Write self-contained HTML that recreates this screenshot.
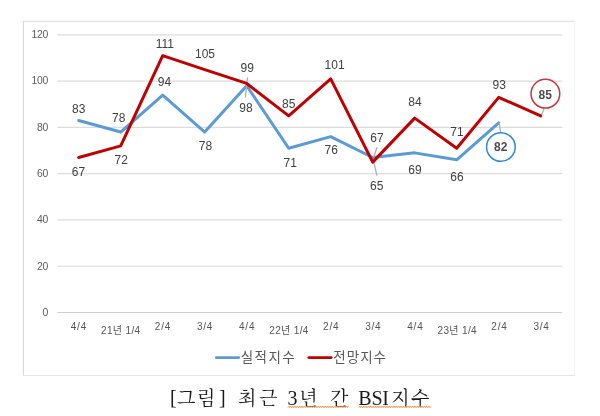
<!DOCTYPE html>
<html lang="ko"><head><meta charset="utf-8"><title>BSI</title>
<style>
html,body{margin:0;padding:0;background:#fff;}
body{width:600px;height:416px;overflow:hidden;position:relative;}
svg{position:absolute;left:0;top:0;display:block;}
.ax text{font-family:"Liberation Sans","Noto Sans CJK KR",sans-serif;font-size:10.4px;fill:#5c5c5c;}
.yl text{text-anchor:end;}
.xl text{text-anchor:middle;font-size:10px;fill:#555;}
.yl text{letter-spacing:-0.3px;}
.dl text{font-family:"Liberation Sans",sans-serif;font-size:12px;fill:#404040;text-anchor:middle;}
.dl.bd text{fill:#4c4c4c;}
.lg text{font-family:"Liberation Sans","Noto Sans CJK KR",sans-serif;font-size:13.5px;fill:#595959;}
.cap{font-family:"Liberation Serif","Noto Serif CJK SC",serif;font-size:19px;fill:#1a1a1a;}
.lat{font-size:20px;}
</style></head><body>
<svg width="600" height="416" viewBox="0 0 600 416">
<g stroke-width="1" fill="none"><line x1="23.4" y1="20.8" x2="23.4" y2="375.9" stroke="#d6d6d6"/><line x1="22.9" y1="21.3" x2="575.2" y2="21.3" stroke="#dedede"/><line x1="22.9" y1="375.5" x2="575.2" y2="375.5" stroke="#e6e6e6" stroke-width="1.2"/><line x1="574.7" y1="21.3" x2="574.7" y2="375.5" stroke="#f6f6f6"/></g>
<g stroke="#dcdcdc" stroke-width="1.2"><line x1="57.5" x2="562.3" y1="266.23" y2="266.23"/><line x1="57.5" x2="562.3" y1="219.95" y2="219.95"/><line x1="57.5" x2="562.3" y1="173.68" y2="173.68"/><line x1="57.5" x2="562.3" y1="127.41" y2="127.41"/><line x1="57.5" x2="562.3" y1="81.13" y2="81.13"/><line x1="57.5" x2="562.3" y1="34.86" y2="34.86"/><line x1="57.5" x2="562.3" y1="312.5" y2="312.5" stroke="#cfcfcf"/></g>
<g class="ax yl"><text x="47.9" y="315.80">0</text><text x="47.9" y="269.53">20</text><text x="47.9" y="223.25">40</text><text x="47.9" y="176.98">60</text><text x="47.9" y="130.71">80</text><text x="47.9" y="84.43">100</text><text x="47.9" y="38.16">120</text></g>
<g class="ax xl"><text x="78.90" y="330.3" letter-spacing="0.8">4/4</text><text x="120.76" y="333.6" letter-spacing="0.35">21년 1/4</text><text x="163.02" y="330.3" letter-spacing="0.8">2/4</text><text x="205.08" y="330.3" letter-spacing="0.8">3/4</text><text x="247.14" y="330.3" letter-spacing="0.8">4/4</text><text x="289.00" y="333.6" letter-spacing="0.35">22년 1/4</text><text x="331.26" y="330.3" letter-spacing="0.8">2/4</text><text x="373.32" y="330.3" letter-spacing="0.8">3/4</text><text x="415.38" y="330.3" letter-spacing="0.8">4/4</text><text x="457.24" y="333.6" letter-spacing="0.35">23년 1/4</text><text x="499.50" y="330.3" letter-spacing="0.8">2/4</text><text x="541.56" y="330.3" letter-spacing="0.8">3/4</text></g>
<polyline points="78.7,120.47 120.7,132.03 162.7,95.02 204.7,132.03 246.7,85.76 288.7,148.23 330.7,136.66 372.7,157.48 414.7,152.86 456.7,159.8 498.7,122.78" fill="none" stroke="#5b9bd5" stroke-width="3" stroke-linejoin="round" stroke-linecap="round"/>
<g stroke="#adb0b2" stroke-width="1.3" fill="none">
<line x1="247.6" y1="77.3" x2="246.7" y2="85"/><line x1="246.6" y1="85" x2="245.4" y2="97.2"/>
<line x1="377" y1="147.3" x2="373.8" y2="157"/><line x1="373.8" y1="162" x2="376.9" y2="175.6"/>
<line x1="499.2" y1="122.8" x2="500.6" y2="132.6"/>
<line x1="544.4" y1="108.3" x2="541.2" y2="115.6"/>
</g>
<polyline points="78.7,157.48 120.7,145.92 162.7,55.68 204.7,69.56 246.7,83.45 288.7,115.84 330.7,78.82 372.7,162.11 414.7,118.15 456.7,148.23 498.7,97.33 540.7,115.84" fill="none" stroke="#c00000" stroke-width="3" stroke-linejoin="round" stroke-linecap="round"/>
<g class="dl"><text x="78.8" y="112.7">83</text><text x="118.8" y="121.9">78</text><text x="164.5" y="85.8">94</text><text x="205.5" y="150">78</text><text x="246" y="111.8">98</text><text x="290.3" y="166.7">71</text><text x="331.3" y="154.3">76</text><text x="377" y="141.9">67</text><text x="415" y="174.3">69</text><text x="457" y="181.2">66</text><text x="78.5" y="175.8">67</text><text x="121.3" y="164.3">72</text><text x="164.9" y="47.6">111</text><text x="205" y="57.5">105</text><text x="247.3" y="71.9">99</text><text x="288.8" y="107.6">85</text><text x="334.6" y="68.9">101</text><text x="376.8" y="190.1">65</text><text x="415" y="105.8">84</text><text x="457" y="136.3">71</text><text x="499.3" y="89.2">93</text></g>
<circle cx="500.9" cy="147" r="14.3" fill="#fff" stroke="#2e8bd8" stroke-width="1.5"/>
<circle cx="545.4" cy="93.7" r="14.35" fill="#fff" stroke="#c8363f" stroke-width="1.5"/>
<g class="dl bd" font-weight="bold"><text x="500.7" y="151.3">82</text><text x="545.3" y="98.8">85</text></g>
<g class="lg">
<line x1="216.2" x2="238.8" y1="357.6" y2="357.6" stroke="#5b9bd5" stroke-width="2.6" stroke-linecap="round"/>
<text x="240.8" y="362.3" letter-spacing="1.4">실적지수</text>
<line x1="308.7" x2="331.3" y1="357.6" y2="357.6" stroke="#c00000" stroke-width="2.6" stroke-linecap="round"/>
<text x="333.3" y="362.3" letter-spacing="1.0">전망지수</text>
</g>
<text class="cap" y="405" x="170 177 197 219 228 238 259 280 287.6 299.3 320 330 350 358.3 371.5 382.3 391.2 411"><tspan class="lat" dy="-0.8">[</tspan><tspan dy="0.8">그림</tspan><tspan class="lat" dy="-0.8">]</tspan><tspan dy="0.8"> 최근 </tspan><tspan class="lat">3</tspan>년 간 <tspan class="lat">BSI</tspan>지수</text>
<g stroke="#ee8a3a" stroke-width="0.8" fill="none" stroke-linejoin="miter"><polyline points="288.00,407.65 288.88,406.15 289.75,407.65 290.62,406.15 291.50,407.65 292.38,406.15 293.25,407.65 294.12,406.15 295.00,407.65 295.88,406.15 296.75,407.65 297.62,406.15 298.50,407.65 299.38,406.15 300.25,407.65 301.12,406.15 302.00,407.65 302.88,406.15 303.75,407.65 304.62,406.15 305.50,407.65 306.38,406.15 307.25,407.65 308.12,406.15 309.00,407.65 309.88,406.15 310.75,407.65 311.62,406.15 312.50,407.65 313.38,406.15 314.25,407.65 315.12,406.15 316.00,407.65 316.88,406.15 317.75,407.65 318.62,406.15 319.50,407.65 320.38,406.15 321.25,407.65 322.12,406.15 323.00,407.65 323.88,406.15 324.75,407.65 325.62,406.15 326.50,407.65 327.38,406.15 328.25,407.65 329.12,406.15 330.00,407.65 330.88,406.15 331.75,407.65 332.62,406.15 333.50,407.65 334.38,406.15 335.25,407.65 336.12,406.15 337.00,407.65 337.88,406.15 338.75,407.65 339.62,406.15 340.50,407.65 341.38,406.15 342.25,407.65 343.12,406.15 344.00,407.65 344.88,406.15 345.75,407.65 346.62,406.15 347.50,407.65 348.38,406.15"/><polyline points="359.00,407.65 359.88,406.15 360.75,407.65 361.62,406.15 362.50,407.65 363.38,406.15 364.25,407.65 365.12,406.15 366.00,407.65 366.88,406.15 367.75,407.65 368.62,406.15 369.50,407.65 370.38,406.15 371.25,407.65 372.12,406.15 373.00,407.65 373.88,406.15 374.75,407.65 375.62,406.15 376.50,407.65 377.38,406.15 378.25,407.65 379.12,406.15 380.00,407.65 380.88,406.15 381.75,407.65 382.62,406.15 383.50,407.65 384.38,406.15 385.25,407.65 386.12,406.15 387.00,407.65 387.88,406.15 388.75,407.65 389.62,406.15 390.50,407.65 391.38,406.15 392.25,407.65 393.12,406.15 394.00,407.65 394.88,406.15 395.75,407.65 396.62,406.15 397.50,407.65 398.38,406.15 399.25,407.65 400.12,406.15 401.00,407.65 401.88,406.15 402.75,407.65 403.62,406.15 404.50,407.65 405.38,406.15 406.25,407.65 407.12,406.15 408.00,407.65 408.88,406.15 409.75,407.65 410.62,406.15 411.50,407.65 412.38,406.15 413.25,407.65 414.12,406.15 415.00,407.65 415.88,406.15 416.75,407.65 417.62,406.15 418.50,407.65 419.38,406.15 420.25,407.65 421.12,406.15 422.00,407.65 422.88,406.15 423.75,407.65 424.62,406.15 425.50,407.65 426.38,406.15 427.25,407.65 428.12,406.15 429.00,407.65 429.88,406.15 430.75,407.65"/></g>
</svg>
</body></html>
